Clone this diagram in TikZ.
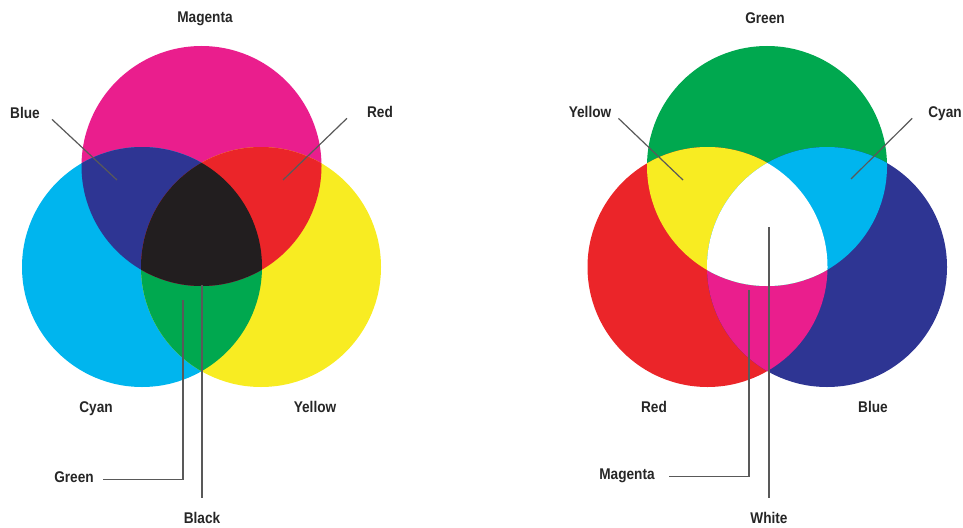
\documentclass[tikz,border=0pt]{standalone}
\usepackage{fontspec}
\setmainfont{Liberation Sans}
\newfontfamily\lblfont[FakeStretch=0.88]{Liberation Sans}
\definecolor{inkmagenta}{HTML}{EA1E8D}
\definecolor{inkcyan}{HTML}{00B5EE}
\definecolor{inkyellow}{HTML}{F8EC22}
\definecolor{inkblack}{HTML}{221E1F}
\definecolor{litred}{HTML}{EB2529}
\definecolor{litgreen}{HTML}{00A84F}
\definecolor{litblue}{HTML}{2E3593}

\begin{document}
\begin{tikzpicture}[
		x=1pt, y=-1pt,
		lbl/.style={font=\lblfont\bfseries\fontsize{15.5pt}{18pt}\selectfont,
				text=black!85, inner sep=0pt, anchor=base},
		leader/.style={draw=black!65, line width=1.2pt},
	]
	\useasboundingbox (0,0) rectangle (963,527);

	% subtractive mixing
	\coordinate (mag) at (201.5,166);
	\coordinate (cya) at (142,267);
	\coordinate (yel) at (261,267);

	\fill[inkmagenta] (mag) circle (120pt);
	\fill[inkcyan] (cya) circle (120pt);
	\fill[inkyellow] (yel) circle (120pt);
	\begin{scope}
		\clip (cya) circle (120pt);
		\fill[litgreen] (yel) circle (120pt);
	\end{scope}
	\begin{scope}
		\clip (mag) circle (120pt);
		\fill[litblue] (cya) circle (120pt);
		\fill[litred] (yel) circle (120pt);
		\clip (cya) circle (120pt);
		\fill[inkblack] (yel) circle (120pt);
	\end{scope}

	\node[lbl] (tMag) at (205,23) {Magenta};
	\node[lbl] (tBlue) at (25,118) {Blue};
	\node[lbl] (tRed) at (380,117) {Red};
	\node[lbl] (tCya) at (96,412) {Cyan};
	\node[lbl] (tYel) at (315,412) {Yellow};
	\node[lbl] (tGreen) at (74,482) {Green};
	\node[lbl] (tBlack) at (202,523) {Black};

	\coordinate (pBlue) at (117,180);
	\coordinate (pRed) at (283,180);
	\coordinate (pGreen) at (183,300);
	\coordinate (pBlack) at (202,285);

	\draw[leader] ([xshift=12pt,yshift=-4pt]tBlue.mid east) -- (pBlue);
	\draw[leader] ([xshift=-20pt,yshift=-4pt]tRed.mid west) -- (pRed);
	\draw[leader, shorten >=9pt] (pGreen) |- (tGreen.mid east);
	\draw[leader, shorten >=14pt] (pBlack) -- (pBlack |- tBlack.north);

	% additive mixing
	\coordinate (grn) at (767,166);
	\coordinate (red) at (707.5,267);
	\coordinate (blu) at (827,267);

	\fill[litgreen] (grn) circle (120pt);
	\fill[litred] (red) circle (120pt);
	\fill[litblue] (blu) circle (120pt);
	\begin{scope}
		\clip (red) circle (120pt);
		\fill[inkmagenta] (blu) circle (120pt);
	\end{scope}
	\begin{scope}
		\clip (grn) circle (120pt);
		\fill[inkyellow] (red) circle (120pt);
		\fill[inkcyan] (blu) circle (120pt);
		\clip (red) circle (120pt);
		\fill[white] (blu) circle (120pt);
	\end{scope}

	\node[lbl] (tGrn) at (765,24) {Green};
	\node[lbl] (tYel2) at (590,117) {Yellow};
	\node[lbl] (tCya2) at (945,117) {Cyan};
	\node[lbl] (tRed2) at (654,412) {Red};
	\node[lbl] (tBlu2) at (873,412) {Blue};
	\node[lbl] (tMag2) at (627,479) {Magenta};
	\node[lbl] (tWhite) at (769,523) {White};

	\coordinate (pYel) at (683,180);
	\coordinate (pCya) at (851,179);
	\coordinate (pMag) at (749,290);
	\coordinate (pWhite) at (769,227);

	\draw[leader] ([xshift=7pt,yshift=-4pt]tYel2.mid east) -- (pYel);
	\draw[leader] ([xshift=-16pt,yshift=-4pt]tCya2.mid west) -- (pCya);
	\draw[leader, shorten >=14pt] (pMag) |- (tMag2.mid east);
	\draw[leader, shorten >=14pt] (pWhite) -- (pWhite |- tWhite.north);

\end{tikzpicture}
\end{document}
